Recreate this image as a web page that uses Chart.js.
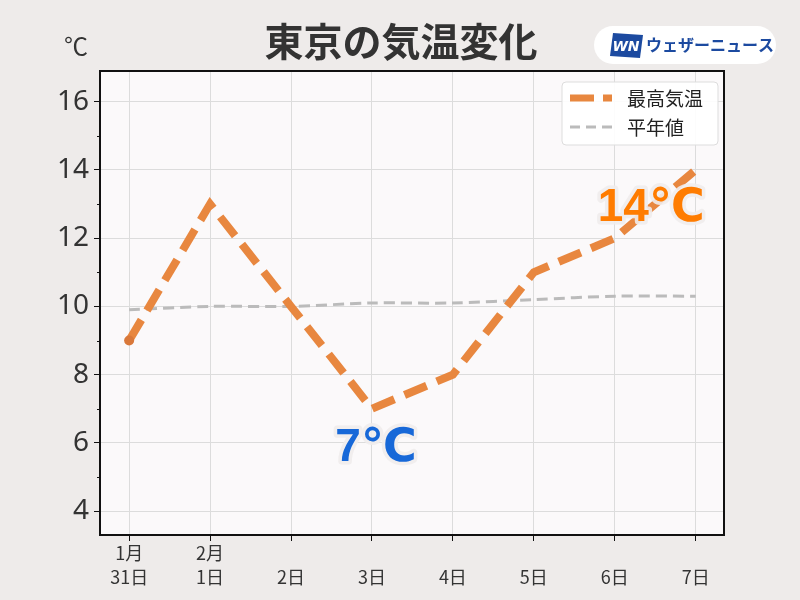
<!DOCTYPE html>
<html>
<head>
<meta charset="utf-8">
<script src="https://cdn.jsdelivr.net/npm/chart.js@4/dist/chart.umd.min.js"></script>
<style>
  html, body { margin: 0; padding: 0; background: #eeebea; }
  #wrap { width: 800px; height: 600px; }
</style>
</head>
<body>
<div id="wrap"><canvas id="kion" width="800" height="600"></canvas></div>
<script>
const dayLabels = [['1月', '31日'], ['2月', '1日'], ['', '2日'], ['', '3日'], ['', '4日'], ['', '5日'], ['', '6日'], ['', '7日']];
const maxTemps = [9, 13, 10, 7, 8, 11, 12, 14];
const normalTemps = [9.9, 10.0, 10.0, 10.1, 10.1, 10.2, 10.3, 10.3];

const jp = '"Noto Sans CJK JP", "Noto Sans", sans-serif';
const orange = '#e8873f';

// titles, frame, legend and callouts drawn straight on the canvas
const decor = {
  id: 'decor',
  beforeDraw(chart) {
    const { ctx, chartArea: a } = chart;
    ctx.save();
    ctx.fillStyle = '#eeebea';
    ctx.fillRect(0, 0, chart.width, chart.height);
    ctx.fillStyle = '#fbf9fa';
    ctx.fillRect(a.left, a.top, a.right - a.left, a.bottom - a.top);
    ctx.restore();
  },
  afterDraw(chart) {
    const { ctx, chartArea: a, scales } = chart;
    ctx.save();
    // frame
    ctx.strokeStyle = '#111';
    ctx.lineWidth = 2;
    ctx.strokeRect(a.left, a.top, a.right - a.left, a.bottom - a.top);
    // minor ticks on y
    ctx.lineWidth = 1;
    for (let v = 5; v <= 15; v += 2) {
      const y = Math.round(scales.y.getPixelForValue(v)) + 0.5;
      ctx.beginPath(); ctx.moveTo(a.left - 3, y); ctx.lineTo(a.left, y); ctx.stroke();
    }

    // title
    ctx.fillStyle = '#333';
    ctx.font = 'bold 39px ' + jp;
    ctx.textAlign = 'center';
    ctx.textBaseline = 'middle';
    ctx.fillText('東京の気温変化', 401, 41);

    // unit
    ctx.font = '24px ' + jp;
    ctx.fillStyle = '#333';
    ctx.fillText('℃', 76, 46);

    // logo pill
    ctx.fillStyle = '#ffffff';
    ctx.beginPath();
    ctx.roundRect(594, 26, 182, 38, 19);
    ctx.fill();
    ctx.fillStyle = '#1c4aa0';
    ctx.beginPath();
    ctx.moveTo(613, 33); ctx.lineTo(643, 35); ctx.lineTo(640, 58); ctx.lineTo(610, 56);
    ctx.closePath();
    ctx.fill();
    ctx.fillStyle = '#ffffff';
    ctx.font = 'italic bold 14px "DejaVu Sans", sans-serif';
    ctx.fillText('WN', 626, 47);
    ctx.fillStyle = '#1c4aa0';
    ctx.font = 'bold 16px ' + jp;
    ctx.textAlign = 'left';
    ctx.fillText('ウェザーニュース', 646, 45);

    // legend
    ctx.fillStyle = 'rgba(255,255,255,0.9)';
    ctx.strokeStyle = '#dddddd';
    ctx.lineWidth = 1;
    ctx.beginPath();
    ctx.roundRect(562, 82, 156, 63, 4);
    ctx.fill();
    ctx.stroke();
    ctx.lineCap = 'butt';
    ctx.strokeStyle = orange;
    ctx.lineWidth = 7;
    ctx.setLineDash([24, 9]);
    ctx.beginPath(); ctx.moveTo(570, 98); ctx.lineTo(612, 98); ctx.stroke();
    ctx.strokeStyle = '#bbbbbb';
    ctx.lineWidth = 3;
    ctx.setLineDash([10, 6]);
    ctx.beginPath(); ctx.moveTo(570, 127); ctx.lineTo(612, 127); ctx.stroke();
    ctx.setLineDash([]);
    ctx.fillStyle = '#222';
    ctx.font = '19px ' + jp;
    ctx.textAlign = 'left';
    ctx.fillText('最高気温', 627, 99);
    ctx.fillText('平年値', 627, 128);

    // callouts
    const callout = (txt, i, v, dy, col) => {
      const x = scales.x.getPixelForValue(i);
      const y = scales.y.getPixelForValue(v) + dy;
      ctx.font = 'bold 46px "Liberation Sans", "DejaVu Sans", sans-serif';
      ctx.textAlign = 'center';
      ctx.textBaseline = 'middle';
      ctx.lineJoin = 'round';
      ctx.lineWidth = 7;
      ctx.strokeStyle = 'rgba(240,236,236,0.9)';
      ctx.strokeText(txt, x, y);
      ctx.fillStyle = col;
      ctx.fillText(txt, x, y);
    };
    callout('7℃', 3.05, 7, 40, '#1768d8');
    callout('14℃', 6.45, 14, 38, '#ff7c00');
    ctx.restore();
  }
};

new Chart(document.getElementById('kion'), {
  type: 'line',
  data: {
    datasets: [
      {
        label: '最高気温',
        data: maxTemps.map((v, i) => ({ x: i, y: v })),
        borderColor: orange,
        backgroundColor: '#d9783a',
        borderWidth: 8,
        borderDash: [24, 11],
        pointRadius: ctx => ctx.dataIndex === 0 ? 5 : 0,
        pointBorderWidth: 0,
        tension: 0,
        order: 1
      },
      {
        label: '平年値',
        data: normalTemps.map((v, i) => ({ x: i, y: v })),
        borderColor: '#bbbbbb',
        borderWidth: 3,
        borderDash: [11, 6],
        pointRadius: 0,
        tension: 0.3,
        order: 2
      }
    ]
  },
  options: {
    responsive: false,
    animation: false,
    layout: { padding: { left: 0, right: 76, top: 71, bottom: 0 } },
    plugins: {
      legend: { display: false },
      tooltip: { enabled: false }
    },
    scales: {
      x: {
        type: 'linear',
        min: -0.36,
        max: 7.35,
        afterBuildTicks: s => { s.ticks = dayLabels.map((_, i) => ({ value: i })); },
        afterFit: s => { s.height = 65; },
        ticks: {
          callback: v => dayLabels[v],
          color: '#333',
          font: { size: 18, family: jp, lineHeight: 1.33 },
          padding: 0,
          maxRotation: 0
        },
        grid: { color: '#dcdcdc', tickColor: '#111', tickLength: 6 },
        border: { display: false }
      },
      y: {
        min: 3.3,
        max: 16.9,
        afterBuildTicks: s => {
          const t = [];
          for (let v = 4; v <= 16; v += 2) t.push({ value: v });
          s.ticks = t;
        },
        afterFit: s => { s.width = 100; },
        ticks: {
          color: '#333',
          font: { size: 28, family: '"Noto Sans", sans-serif' },
          padding: 5
        },
        grid: { color: '#dcdcdc', tickColor: '#111', tickLength: 6 },
        border: { display: false }
      }
    }
  },
  plugins: [decor]
});
</script>
</body>
</html>
